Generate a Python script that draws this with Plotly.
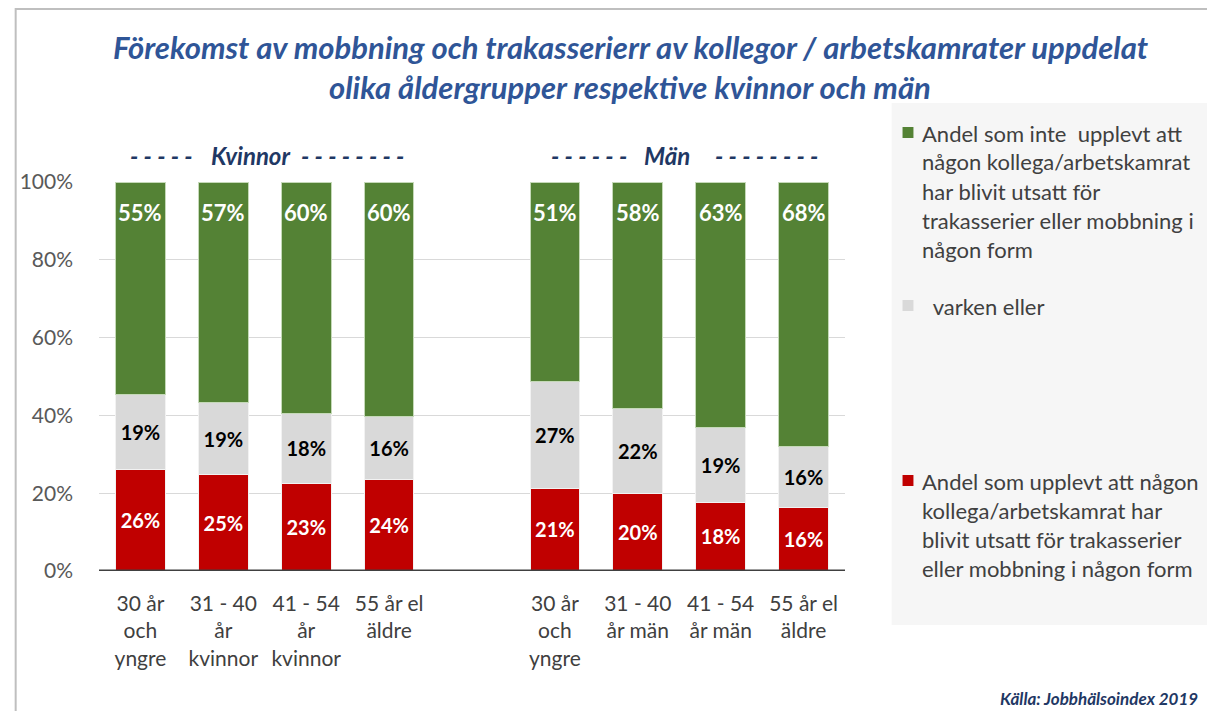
import plotly.graph_objects as go

# ---------------- data ----------------
categories = [
    "30 år<br>och<br>yngre", "31 - 40<br>år<br>kvinnor", "41 - 54<br>år<br>kvinnor", "55 år el<br>äldre",
    "",
    "30 år<br>och<br>yngre", "31 - 40<br>år män", "41 - 54<br>år män", "55 år el<br>äldre",
]
red_vals = [26.1, 24.7, 22.6, 23.6, None, 21.2, 19.8, 17.7, 16.2]
grey_vals = [19.3, 18.7, 17.8, 16.2, None, 27.4, 22.1, 19.1, 15.9]
green_vals = [54.6, 56.6, 59.6, 60.2, None, 51.4, 58.1, 63.2, 67.9]

series_names = [
    "Andel som upplevt att någon kollega/arbetskamrat har blivit utsatt för trakasserier eller mobbning i någon form",
    "varken eller",
    "Andel som inte  upplevt att någon kollega/arbetskamrat har blivit utsatt för trakasserier eller mobbning i någon form",
]
y_ticks = [0, 20, 40, 60, 80, 100]
y_ticktext = ["0%", "20%", "40%", "60%", "80%", "100%"]

RED = "#C00000"
GREY = "#D9D9D9"
GREEN = "#548235"
FONT = "Lato"

W, H = 1215, 711
OFF = 8  # page offset of the figure inside the browser window
L, R, T, B = 93 - OFF, 845 - OFF, 182 - OFF, 571 - OFF  # plot area in figure pixels


def px(x):
    """reference window x-pixel -> paper coordinate"""
    return (x - OFF - L) / (R - L)


def py(y):
    """reference window y-pixel -> paper coordinate"""
    return (B - (y - OFF)) / (B - T)


xs = list(range(len(categories)))

fig = go.Figure()
fig.add_trace(go.Bar(
    x=xs, y=red_vals, name=series_names[0], marker=dict(color=RED, line=dict(color="#F2F2F2", width=1)),
    texttemplate="%{y:.0f}%", textposition="inside", insidetextanchor="middle",
    textfont=dict(family=FONT, size=22, color="white", weight="bold"),
))
fig.add_trace(go.Bar(
    x=xs, y=grey_vals, name=series_names[1], marker=dict(color=GREY, line=dict(color="#F2F2F2", width=1)),
    texttemplate="%{y:.0f}%", textposition="inside", insidetextanchor="middle",
    textfont=dict(family=FONT, size=20, color="black", weight="bold"),
))
fig.add_trace(go.Bar(
    x=xs, y=green_vals, name=series_names[2], marker=dict(color=GREEN, line=dict(color="#C5D9B8", width=1)),
    textposition="none",
))

fig.update_layout(
    width=W, height=H,
    barmode="stack", bargap=0.4,
    showlegend=False,
    plot_bgcolor="white", paper_bgcolor="white",
    margin=dict(l=L, r=W - R, t=T, b=H - B, pad=0),
    uniformtext=dict(mode="show", minsize=8),
    font=dict(family=FONT, color="#404040"),
)
fig.update_xaxes(
    tickmode="array", tickvals=xs, ticktext=categories, range=[-0.5, len(categories) - 0.5],
    showgrid=False, zeroline=False, showline=False,
    tickfont=dict(family=FONT, size=21, color="#404040"), ticks="", ticklabelstandoff=18,
)
fig.update_yaxes(
    range=[0, 100], tickmode="array", tickvals=y_ticks, ticktext=y_ticktext,
    showgrid=True, gridcolor="#D9D9D9", gridwidth=1, zeroline=False, showline=False,
    tickfont=dict(family=FONT, size=21, color="#595959"), ticks="", ticklabelstandoff=25,
)

shapes = []
# outer border
shapes.append(dict(type="rect", xref="paper", yref="paper", x0=px(9), x1=px(1260), y0=py(760), y1=py(9),
                   line=dict(color="#BFBFBF", width=2), fillcolor="rgba(0,0,0,0)", layer="below"))
# zero axis line
shapes.append(dict(type="line", xref="paper", yref="y", x0=0, x1=1, y0=0, y1=0,
                   line=dict(color="#404040", width=3)))
# legend background
shapes.append(dict(type="rect", xref="paper", yref="paper", x0=px(892), x1=px(1230), y0=py(625), y1=py(103),
                   line=dict(width=0), fillcolor="#F6F6F6", layer="below"))

title_font = dict(family=FONT, size=31, color="#2F5597", weight="bold", style="italic")
hdr_font = dict(family=FONT, size=24, color="#1F3864", weight="bold", style="italic")

annotations = []
# green segment labels (near the top of each green segment)
for i, (r, g, gr) in enumerate(zip(red_vals, grey_vals, green_vals)):
    if gr is None:
        continue
    annotations.append(dict(text=f"{round(gr)}%", x=i, y=r + g + gr, xref="x", yref="y",
                            xanchor="center", yanchor="top", yshift=-15, showarrow=False,
                            font=dict(family=FONT, size=22, color="white", weight="bold")))

# title
annotations.append(dict(text="Förekomst av mobbning och trakasserierr av kollegor / arbetskamrater uppdelat",
                        xref="paper", yref="paper", x=px(629), y=py(47), xanchor="center", yanchor="middle",
                        showarrow=False, font=title_font))
annotations.append(dict(text="olika åldergrupper respektive kvinnor och män",
                        xref="paper", yref="paper", x=px(628), y=py(87), xanchor="center", yanchor="middle",
                        showarrow=False, font=title_font))
# group headers (dashes and words placed separately)
annotations.append(dict(text="- - - - -", xref="paper", yref="paper", x=px(190), y=py(155),
                        xanchor="right", yanchor="middle", showarrow=False, font=hdr_font))
annotations.append(dict(text="Kvinnor", xref="paper", yref="paper", x=px(204), y=py(155),
                        xanchor="left", yanchor="middle", showarrow=False, font=hdr_font))
annotations.append(dict(text="- - - - - - - -", xref="paper", yref="paper", x=px(402), y=py(155),
                        xanchor="right", yanchor="middle", showarrow=False, font=hdr_font))
annotations.append(dict(text="- - - - - -", xref="paper", yref="paper", x=px(627), y=py(155),
                        xanchor="right", yanchor="middle", showarrow=False, font=hdr_font))
annotations.append(dict(text="Män", xref="paper", yref="paper", x=px(640), y=py(155),
                        xanchor="left", yanchor="middle", showarrow=False, font=hdr_font))
annotations.append(dict(text="- - - - - - - -", xref="paper", yref="paper", x=px(820), y=py(155),
                        xanchor="right", yanchor="middle", showarrow=False, font=hdr_font))

# legend (manual)
legend_items = [
    (GREEN, ["Andel som inte  upplevt att", "någon kollega/arbetskamrat", "har blivit utsatt för",
             "trakasserier eller mobbning i", "någon form"], 133),
    (GREY, ["  varken eller"], 306),
    (RED, ["Andel som upplevt att någon", "kollega/arbetskamrat har", "blivit utsatt för trakasserier",
           "eller mobbning i någon form"], 481),
]
for color, lines, y0 in legend_items:
    shapes.append(dict(type="rect", xref="paper", yref="paper", x0=px(903), x1=px(914),
                       y0=py(y0 + 5), y1=py(y0 - 6), fillcolor=color, line=dict(width=0)))
    for i, line in enumerate(lines):
        annotations.append(dict(text=line.replace("  ", "&nbsp; "), xref="paper", yref="paper",
                                x=px(921), y=py(y0 + i * 29),
                                xanchor="left", yanchor="middle", showarrow=False,
                                font=dict(family=FONT, size=22, color="#404040")))

# source
annotations.append(dict(text="Källa: Jobbhälsoindex 2019", xref="paper", yref="paper", x=px(1203), y=py(698),
                        xanchor="right", yanchor="middle", showarrow=False,
                        font=dict(family=FONT, size=17, color="#1F3864", weight="bold", style="italic")))

fig.update_layout(shapes=shapes, annotations=annotations)
fig.write_html("out.html")
